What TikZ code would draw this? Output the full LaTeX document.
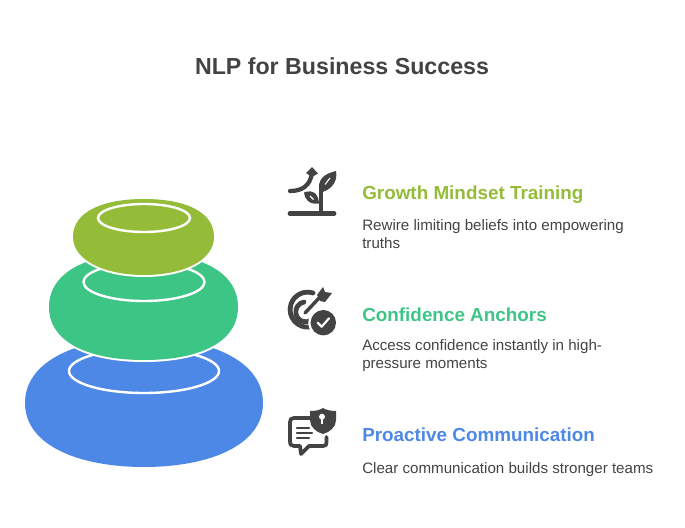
\documentclass[tikz,border=0pt]{standalone}
\usepackage{fontspec}
\setmainfont{Liberation Sans}
\definecolor{ink}{HTML}{434343}
\definecolor{bluestone}{HTML}{4E88E7}
\definecolor{greenstone}{HTML}{3DC585}
\definecolor{olivestone}{HTML}{94BC38}
\tikzset{
    stone/.style={fill=#1, preaction={draw=white, line width=3}},
    ring/.style={draw=white, line width=1.8},
    heading/.style={anchor=west, inner sep=0, font=\fontsize{14.15}{17}\selectfont\bfseries},
    body/.style={anchor=north west, inner sep=0, align=left, text=ink, font=\fontsize{11.35}{13.5}\selectfont},
    stroke/.style={draw=ink, line width=3, line cap=round, line join=round},
}

\begin{document}
\begin{tikzpicture}[x=0.75pt, y=-0.75pt]
    \useasboundingbox (0,0) rectangle (685,528);

    \node[anchor=center, inner sep=0, text=ink, font=\fontsize{17.4}{22}\selectfont\bfseries](title) at (342,66){NLP for Business Success};

    % stones
    \fill[bluestone] (25,403) .. controls (25,362) and (75,338) .. (144,338) .. controls (213,338) and (263,362) .. (263,403)
        .. controls (263,446) and (208,467) .. (144,467) .. controls (80,467) and (25,446) .. (25,403) -- cycle;
    \draw[ring] (144,371) ellipse (75 and 22);
    \path[stone=greenstone] (49,307) .. controls (49,272) and (88,253) .. (144,253) .. controls (200,253) and (238,272) .. (238,307)
        .. controls (238,342) and (200,360) .. (144,360) .. controls (88,360) and (49,342) .. (49,307) -- cycle;
    \draw[ring] (144,282) ellipse (60.5 and 19);
    \path[stone=olivestone] (73,237) .. controls (73,211) and (104,199) .. (144,199) .. controls (184,199) and (214,211) .. (214,237)
        .. controls (214,260) and (184,275) .. (144,275) .. controls (104,275) and (73,260) .. (73,237) -- cycle;
    \draw[ring] (144,218) ellipse (46 and 14);

    % texts
    \node[heading, text=olivestone](growth) at (362,194.5){Growth Mindset Training};
    \node[body](growthtext) at (362,219.5){Rewire limiting beliefs into empowering\\truths};
    \node[heading, text=greenstone](confidence) at (362,314.5){Confidence Anchors};
    \node[body](confidencetext) at (362,339.5){Access confidence instantly in high-\\pressure moments};
    \node[heading, text=bluestone](proactive) at (362,434.5){Proactive Communication};
    \node[body](proactivetext) at (362,462.5){Clear communication builds stronger teams};

    % plant icon
    \draw[stroke, line width=3.6] (290,213.5) -- (334,213.5);
    \draw[stroke, line width=3.2, line cap=butt] (321,213) -- (321,188);
    \draw[stroke, line width=3.2] (290,191) .. controls (302,191) and (310,186) .. (312,173);
    \fill[ink] (306,173) -- (312,167) -- (318,173.5) -- (312,177) -- cycle;
    \fill[ink] (319.5,192) .. controls (317,180) and (323,174) .. (336,171) .. controls (338,181) and (332,189) .. (322.5,192) -- cycle;
    \fill[ink] (319,203.5) .. controls (318.5,194) and (313,189) .. (304,192.5) .. controls (304.5,199) and (309,205) .. (319,203.5) -- cycle;
    \draw[white, line width=0.8] (325,184.5) -- (330,178);
    \draw[white, line width=0.8] (313.5,199.5) -- (310,196);

    % target icon
    \draw[stroke, line width=3.6] (313,293) arc[start angle=-72, end angle=-276, radius=17.5];
    \draw[stroke, line width=3.6] (304,302) arc[start angle=-100, end angle=-300, radius=10];
    \draw[stroke, line width=2.6] (305,313) -- (320,297);
    \fill[ink] (317,295) -- (323,287) -- (325,292) -- (332,293) -- (325,302) -- (320,301) -- cycle;
    \fill[white] (323.3,322.7) circle (15);
    \fill[ink] (323.3,322.7) circle (12.7);
    \draw[white, line width=1.6, line cap=round, line join=round] (317.7,322.7) -- (321.7,326.7) -- (329,318.3);

    % message icon
    \draw[stroke, line width=2.8] (310,418) -- (294,418) .. controls (291,418) and (290,419.5) .. (290,422) -- (290,441) .. controls (290,444.5) and (291,446) .. (294,446)
        -- (300,446) -- (301,454) -- (309,446) -- (323,446) .. controls (326,446) and (326.5,445) .. (326.5,442) -- (326.5,437);
    \draw[stroke, line width=1.7] (297,428) -- (309,428);
    \draw[stroke, line width=1.7] (297,433) -- (312,433);
    \draw[stroke, line width=1.7] (297,438) -- (309,438);
    \fill[ink] (310,411) .. controls (316,411) and (320,410) .. (323,408) .. controls (326,410) and (331,411) .. (336,411)
        -- (336,420) .. controls (336,427) and (330,432) .. (323,434) .. controls (316,432) and (310,427) .. (310,420) -- cycle;
    \fill[white] (322,416.7) circle (3);
    \fill[white] (321,417) rectangle (323,424);
\end{tikzpicture}
\end{document}
